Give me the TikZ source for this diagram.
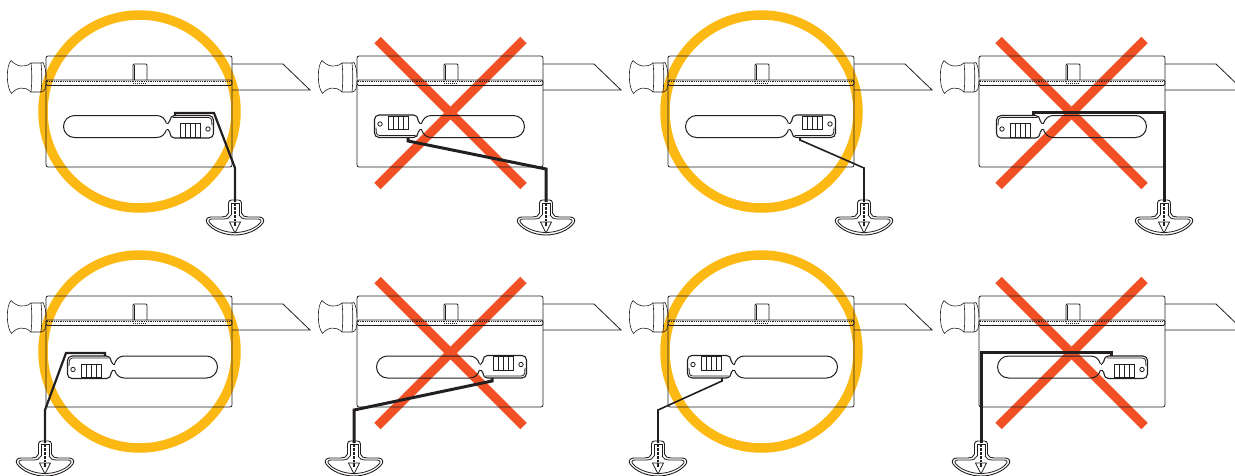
\documentclass[tikz,border=0pt]{standalone}
\usepackage{xcolor}
\usepackage{tikz}
\usetikzlibrary{calc}
\definecolor{ringyellow}{HTML}{FDB913}
\definecolor{crossred}{HTML}{F15025}
\definecolor{inkgray}{HTML}{231F20}
\tikzset{
    outline/.style={draw=inkgray, line width=0.8pt},
    okring/.style={draw=ringyellow, line width=9.5pt},
    badcross/.style={draw=crossred, line width=9pt},
    wirethick/.style={draw=inkgray, line width=3pt, line join=miter},
    wiremid/.style={draw=inkgray, line width=2.2pt, line join=miter},
    wirethin/.style={draw=inkgray, line width=1.6pt, line join=miter},
    okmark/.pic={\draw[okring] (139.5,111.5) circle (96.5);},
    badmark/.pic={
        \draw[badcross] (377.5,40) -- (523.5,186);
        \draw[badcross] (523.5,40) -- (377.5,186);
    },
    cutterbody/.pic={
        % 手柄
        \draw[inkgray, line width=0.6pt] (31,63) .. controls (25,68) and (17,67) .. (11,60.5) .. controls (6,66) and (6,87) .. (11.5,93.5) .. controls (17,87) and (25,86) .. (31,92);
        \draw[inkgray, line width=0.6pt] (31,63) .. controls (32,72) and (32,83) .. (31,92) -- (41,92) .. controls (42,83) and (42,72) .. (41,63) -- cycle;
        \draw[inkgray, line width=0.6pt] (41,63) -- (43,62.5) .. controls (45,66) and (46,71) .. (46,77);
        \draw[inkgray, line width=0.6pt] (41,92) -- (43.5,91) .. controls (45,90) and (45.5,88) .. (45.5,85);
        % 外壳
        \draw[outline, rounded corners=2pt] (46,56) rectangle (232,167);
        \draw[outline, rounded corners=1.5pt] (46,80) rectangle (232,85.5);
        \draw[inkgray, line width=0.9pt, dash pattern=on 0.7pt off 1.1pt] (47,81.5) -- (231,81.5);
        \draw[inkgray, line width=0.8pt, dash pattern=on 1pt off 1pt] (133,83.5) -- (146,83.5);
        % 卡扣
        \draw[outline, rounded corners=1pt] (133,80) -- (133,64) -- (147,64) -- (147,80);
        \draw[outline] (134.5,65) -- (134.5,80);
        % 刀片
        \draw[outline] (232,64) -- (283,64) -- (310,90) -- (232,90);
    },
    sliderblock/.pic={
        % 槽
        \draw[inkgray, line width=1pt] (-1,-3) .. controls (-2.5,-8) and (-6,-11) .. (-11,-11) -- (-93,-11) arc[start angle=270, end angle=90, radius=11] -- (-11,11) .. controls (-6,11) and (-2.5,8) .. (-1,3);
        \draw[inkgray, line width=1pt] (-1,-3) -- (0.5,-3);
        \draw[inkgray, line width=1pt] (-1,3) -- (0.5,3);
        % 滑块
        \draw[inkgray, line width=1.1pt, rounded corners=4.5pt] (2.5,-6) -- (2.5,-11) -- (46,-11) -- (46,11.5) -- (2.5,11.5) -- (2.5,6);
        \draw[inkgray, line width=1pt] (0.5,-3) -- (2.5,-6);
        \draw[inkgray, line width=1pt] (0.5,3) -- (2.5,6);
        \draw[outline, rounded corners=3pt] (5,-9) -- (44,-9) -- (44.5,-1);
        \draw[outline] (12.5,-3) rectangle (32.5,10.5);
        \draw[outline] (17.5,-3) -- (17.5,10.5);
        \draw[outline] (22.5,-3) -- (22.5,10.5);
        \draw[outline] (27.5,-3) -- (27.5,10.5);
        \draw[outline] (40.5,2.5) circle (2.2);
    },
    pullgrip/.pic={
        % 拉环
        \draw[outline, line width=0.9pt, rounded corners=3pt] (-6.5,13) -- (-6.5,0) -- (6.5,0) -- (6.5,13);
        \draw[outline, line width=0.9pt] (-6.5,13) .. controls (-7,16) and (-10,17) .. (-13,17) -- (-24,17) .. controls (-28,17) and (-30,20) .. (-28,23) .. controls (-22,31) and (-10,35) .. (0,35) .. controls (10,35) and (22,31) .. (28,23) .. controls (30,20) and (28,17) .. (24,17) -- (13,17) .. controls (10,17) and (7,16) .. (6.5,13);
        \draw[outline] (-4,15) .. controls (-5,18) and (-8,19) .. (-12,19) -- (-23,19) .. controls (-26,19) and (-27,21) .. (-25,23) .. controls (-20,29) and (-9,32.5) .. (0,32.5) .. controls (9,32.5) and (20,29) .. (25,23) .. controls (27,21) and (26,19) .. (23,19) -- (12,19) .. controls (8,19) and (5,18) .. (4,15);
        \draw[outline] (-4,15) -- (-4,3) -- (4,3) -- (4,15);
        \draw[inkgray, line width=1.6pt, dash pattern=on 2.5pt off 1.5pt] (0,3) -- (0,21);
        \draw[outline, fill=white] (-5.5,22) -- (5.5,22) -- (0,33) -- cycle;
        \draw[inkgray, line width=1.6pt] (0,22) -- (0,26);
    }
}
\begin{document}
\begin{tikzpicture}[x=1pt, y=-1pt]
    \useasboundingbox (0,0) rectangle (1235,475);

    % 圆圈
    \pic at (0,0) {okmark};
    \pic at (622,0) {okmark};
    \pic at (0,240) {okmark};
    \pic at (622,240) {okmark};

    % 叉号
    \pic at (0,0) {badmark};
    \pic at (621,0) {badmark};
    \pic at (0,240) {badmark};
    \pic at (621,240) {badmark};

    % 刀具
    \foreach \colx in {0, 311, 622, 933} {
        \pic at (\colx,0) {cutterbody};
        \pic at (\colx,240) {cutterbody};
    }

    % 滑块
    \pic at (167.5,126.5) {sliderblock};
    \pic[xscale=-1, yscale=-1] at (420.5,126.5) {sliderblock};
    \pic[yscale=-1] at (789.5,126.5) {sliderblock};
    \pic[xscale=-1] at (1042.5,126.5) {sliderblock};
    \pic[xscale=-1] at (113.5,367) {sliderblock};
    \pic[yscale=-1] at (480.5,367) {sliderblock};
    \pic[xscale=-1, yscale=-1] at (733.5,367) {sliderblock};
    \pic at (1101.5,367) {sliderblock};

    % 拉环
    \pic at (235,200) {pullgrip};
    \pic at (546,200) {pullgrip};
    \pic at (864,200) {pullgrip};
    \pic at (1164,200) {pullgrip};
    \pic at (45,441) {pullgrip};
    \pic at (354,441) {pullgrip};
    \pic at (658,441) {pullgrip};
    \pic at (981,441) {pullgrip};

    % 拉线
    \draw[wirethick] (1033,116) -- (1033,112.5) -- (1164,112.5) -- (1164,202);
    \draw[wirethick] (1111,356) -- (1111,352.5) -- (981,352.5) -- (981,443);
    \draw[wiremid] (175,116) -- (175,113) -- (214,113) -- (235,168) -- (235,202);
    \draw[wirethick] (408,137) -- (408,141) -- (546,169) -- (546,202);
    \draw[wirethin] (800,137) -- (800,140) -- (864,168) -- (864,202);
    \draw[wiremid] (105,356) -- (105,353) -- (66,353) -- (45,410) -- (45,443);
    \draw[wirethick] (492,378) -- (492,381) -- (354,410) -- (354,443);
    \draw[wirethin] (722,378) -- (722,381) -- (658,410) -- (658,443);
\end{tikzpicture}
\end{document}
